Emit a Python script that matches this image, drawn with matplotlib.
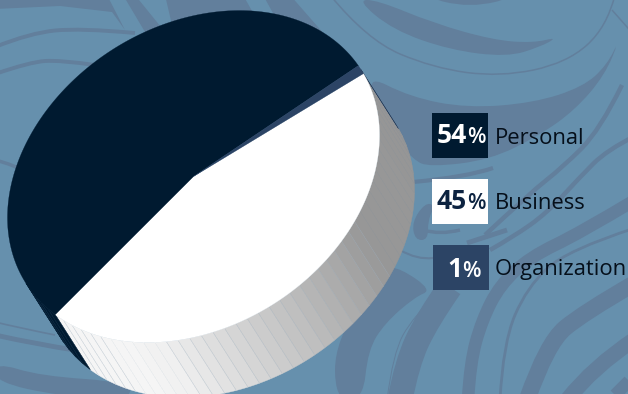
import numpy as np
import matplotlib
matplotlib.use("Agg")
import matplotlib.pyplot as plt
from matplotlib.patches import PathPatch, Polygon, Rectangle
from matplotlib.path import Path

categories = ["Personal", "Business", "Organization"]
shares = [54, 45, 1]
slice_colors = ["#001A30", "#FFFFFF", "#2C4465"]
number_colors = ["#FFFFFF", "#0C2340", "#FFFFFF"]

BG = "#6690AD"
SWIRL = "#627F9C"

# filled swirls of the backdrop
swirl_shapes = [
    [(363, 73), (410, 97), (467, 108), (533, 103), (583, 87), (607, 65), (620, 38),
     (605, 75), (575, 110), (540, 135), (490, 160), (430, 167), (413, 160), (390, 130)],
    [(357, 0), (393, 30), (450, 50), (507, 57), (540, 47), (558, 37), (533, 43),
     (493, 40), (433, 23), (377, 0)],
    [(420, -4), (470, 8), (520, -4)],
    [(400, 268), (432, 290), (415, 297), (385, 323), (368, 350), (363, 400),
     (335, 400), (335, 340), (385, 268)],
    [(-5, 362), (40, 376), (130, 382), (130, 400), (60, 396), (-5, 382)],
    [(415, 240), (412, 222), (425, 203), (435, 205), (428, 220), (428, 240)],
]

# straight edged pieces along the top border
swirl_pieces = [
    [(-5, -5), (-5, 9), (60, 6), (112, 12), (125, 30), (107, -5)],
    [(123, -5), (135, -5), (165, 32), (145, 32)],
    [(165, -5), (172, 25), (260, 25), (243, -5)],
    [(263, -5), (290, -5), (325, 35), (285, 35)],
]

# stroked swirls: control points, width in points
swirl_strokes = [
    ([(-5, 47), (30, 33), (80, 28), (135, 33)], 2.8),
    ([(-5, 74), (30, 62), (60, 60), (95, 65)], 2.8),
    ([(-5, 160), (15, 165), (25, 172)], 2.5),
    ([(-5, 322), (20, 328), (55, 335)], 1.2),
    ([(-5, 335), (40, 345), (75, 350)], 3.5),
    ([(330, -5), (367, 40), (433, 68), (500, 77), (567, 63), (607, 27), (615, -5)], 1.1),
    ([(612, 10), (635, 36)], 1.1),
    ([(493, 168), (467, 177), (413, 182)], 3),
    ([(622, 85), (600, 130), (563, 167), (530, 193), (485, 235)], 3.2),
    ([(635, 136), (607, 150), (580, 177), (547, 213), (513, 237), (490, 250)], 3.2),
    ([(423, 230), (440, 235), (460, 230)], 2.5),
    ([(467, 243), (507, 230)], 3.5),
    ([(400, 250), (417, 260), (433, 258)], 1.5),
    ([(450, 287), (427, 320), (407, 363), (400, 400)], 18),
    ([(635, 200), (580, 233), (530, 257), (500, 285), (482, 320), (470, 363), (468, 400)], 9),
    ([(635, 228), (567, 250), (527, 287), (503, 343), (500, 400)], 2),
    ([(635, 283), (583, 313), (547, 343), (527, 400)], 12),
    ([(635, 339), (593, 367), (567, 400)], 11),
    ([(635, 375), (610, 400)], 9),
    ([(440, 290), (413, 317), (393, 353), (387, 400)], 0.7),
]

# geometry of the tilted disc in figure pixels
CENTER = np.array([193.5, 176.5])
DEPTH = np.array([35.0, 55.0])
LINEAR = np.array([[186.0, 0.0], [-41.05, 160.8]])
START_ANGLE = -24.0


def rim(angle_deg, offset=(0, 0)):
    t = np.radians(angle_deg)
    unit = np.column_stack([np.cos(t), np.sin(t)])
    return unit @ LINEAR.T + CENTER + np.asarray(offset)


def smooth_path(points, closed=False):
    pts = np.asarray(points, dtype=float)
    if closed:
        first = (pts[-1] + pts[0]) / 2
        verts, codes = [first], [Path.MOVETO]
        for i in range(len(pts)):
            verts += [pts[i], (pts[i] + pts[(i + 1) % len(pts)]) / 2]
            codes += [Path.CURVE3, Path.CURVE3]
        verts.append(first)
        codes.append(Path.CLOSEPOLY)
        return Path(verts, codes)
    verts, codes = [pts[0]], [Path.MOVETO]
    for i in range(1, len(pts) - 1):
        end = pts[i + 1] if i == len(pts) - 2 else (pts[i] + pts[i + 1]) / 2
        verts += [pts[i], end]
        codes += [Path.CURVE3, Path.CURVE3]
    if len(pts) == 2:
        verts.append(pts[1])
        codes.append(Path.LINETO)
    return Path(verts, codes)


def wall_shade(angle):
    level = np.interp(angle, [-26, 30, 66, 100, 110, 160],
                      [0x96, 0x98, 0xC6, 0xF0, 0xF5, 0xF5])
    return "#{0:02x}{0:02x}{0:02x}".format(int(level))


fig = plt.figure(figsize=(6.28, 3.94), dpi=100, facecolor=BG)
ax = fig.add_axes([0, 0, 1, 1])
ax.set_xlim(0, 628)
ax.set_ylim(394, 0)
ax.axis("off")

for shape in swirl_shapes:
    ax.add_patch(PathPatch(smooth_path(shape, closed=True), fc=SWIRL, ec="none", zorder=1))
for piece in swirl_pieces:
    ax.add_patch(Polygon(piece, closed=True, fc=SWIRL, ec="none", zorder=1))
for points, width in swirl_strokes:
    ax.add_patch(PathPatch(smooth_path(points), fc="none", ec=SWIRL, lw=width,
                           capstyle="butt", zorder=1))

# slices run clockwise from the right edge of the white one
order = [1, 0, 2]
angle = START_ANGLE
spans = []
for i in order:
    sweep = shares[i] / sum(shares) * 360
    spans.append((i, angle, angle + sweep))
    angle += sweep

# side wall, only the facets that face the viewer
FACET = 3.6
VISIBLE = (-25.7, 154.3)
for i, a0, a1 in spans + [(2, START_ANGLE - 3.6, START_ANGLE)]:
    lo, hi = max(a0, VISIBLE[0]), min(a1, VISIBLE[1])
    if hi <= lo:
        continue
    edges = np.append(np.arange(lo, hi, FACET), hi)
    for e0, e1 in zip(edges[:-1], edges[1:]):
        ts = np.linspace(e0, e1, 6)
        poly = np.vstack([rim(ts), rim(ts[::-1], DEPTH)])
        color = wall_shade((e0 + e1) / 2) if i == 1 else slice_colors[i]
        ax.add_patch(Polygon(poly, closed=True, fc=color, ec=color, lw=0.3, zorder=2))
        # no seams on the flat grey part, nor across the wide facet near the bottom
        if i == 1 and (e0 < 30 or 100 < e0 < 118):
            continue
        edge = "#A9B6C2" if i == 1 else "#1A3550"
        a, b = rim([e0])[0], rim([e0], DEPTH)[0]
        ax.plot([a[0], b[0]], [a[1], b[1]], color=edge, lw=0.35, alpha=0.5, zorder=3)

# top face
for i, a0, a1 in spans:
    ts = np.linspace(a0, a1, 200)
    poly = np.vstack([CENTER, rim(ts)])
    ax.add_patch(Polygon(poly, closed=True, fc=slice_colors[i], ec=slice_colors[i],
                         lw=0.2, zorder=4))

# legend chips
box_x = [432, 432, 433]
box_y = [113, 179, 245]
split_x = [467, 467, 462]
number_base = [143, 209, 277]
label_base = [144, 209, 275]
for i, name in enumerate(categories):
    ax.add_patch(Rectangle((box_x[i], box_y[i]), 56, 45, fc=slice_colors[i], ec="none", zorder=5))
    ax.text(split_x[i], number_base[i], str(shares[i]), ha="right", va="baseline", fontsize=19,
            family="Open Sans", weight="bold", color=number_colors[i], zorder=6)
    ax.text(split_x[i], number_base[i], "%", ha="left", va="baseline", fontsize=15.5,
            family="Open Sans", weight="semibold", color=number_colors[i], zorder=6)
    ax.text(495, label_base[i], name, ha="left", va="baseline", fontsize=15.8,
            family="Open Sans", color="#050F1A", zorder=6)

fig.savefig("out.png", dpi=100, facecolor=BG)
